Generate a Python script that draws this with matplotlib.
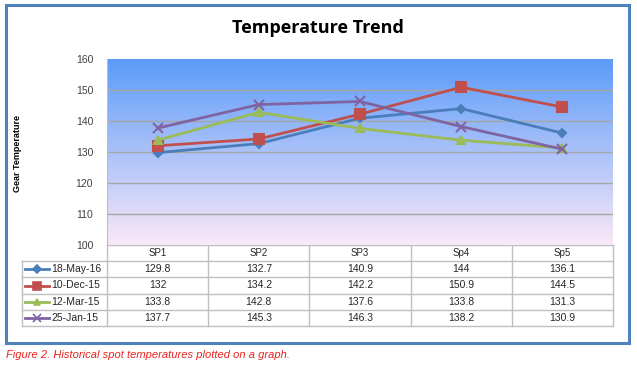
import numpy as np
import matplotlib as mpl
import matplotlib.pyplot as plt
from matplotlib.patches import Rectangle

mpl.rcParams.update({'font.family': ['Liberation Sans', 'DejaVu Sans']})

spots = ['SP1', 'SP2', 'SP3', 'Sp4', 'Sp5']
dates = ['18-May-16', '10-Dec-15', '12-Mar-15', '25-Jan-15']
may16 = [129.8, 132.7, 140.9, 144, 136.1]
dec15 = [132, 134.2, 142.2, 150.9, 144.5]
mar15 = [133.8, 142.8, 137.6, 133.8, 131.3]
jan15 = [137.7, 145.3, 146.3, 138.2, 130.9]
series = [may16, dec15, mar15, jan15]
yticks = [100, 110, 120, 130, 140, 150, 160]

colors = ['#4a7ebb', '#c0504d', '#9bbb59', '#8064a2']
markers = ['D', 's', '^', 'x']
msizes = [4.5, 6.5, 6, 6.5]

W, H = 637, 367
fig = plt.figure(figsize=(W / 100, H / 100), dpi=100)

# full-figure overlay in pixel coordinates for frame / table / captions
bg = fig.add_axes([0, 0, 1, 1])
bg.set_xlim(0, W)
bg.set_ylim(H, 0)
bg.axis('off')
bg.add_patch(Rectangle((6, 5), 623, 338, fill=False, ec='#4f81bd', lw=2.2))

# plot area
px0, px1, py0, py1 = 107, 613, 59, 245
ax = fig.add_axes([px0 / W, 1 - py1 / H, (px1 - px0) / W, (py1 - py0) / H])
grad = np.linspace(0, 1, 256).reshape(-1, 1)
top = np.array([0.36, 0.61, 0.98])
bot = np.array([0.98, 0.91, 0.97])
img = top + (bot - top) * grad[..., None]
ax.imshow(img, extent=[-0.5, 4.5, 100, 160], aspect='auto', zorder=0)
ax.set_xlim(-0.5, 4.5)
ax.set_ylim(100, 160)
for y in yticks[1:-1]:
    ax.axhline(y, color='#a6a6a6', lw=1, zorder=1)
x = np.arange(len(spots))
for vals, c, m, ms in zip(series, colors, markers, msizes):
    ax.plot(x, vals, color=c, lw=2, marker=m, ms=ms, mew=1.5, zorder=3)
ax.set_xticks([])
ax.set_yticks(yticks)
ax.tick_params(axis='y', length=0, labelsize=7.5, labelcolor='#404040', pad=10)
for s in ax.spines.values():
    s.set_visible(False)
ax.spines['left'].set_visible(True)
ax.spines['left'].set_color('#bfbfbf')

# title and y label
fig.text(318 / W, 1 - 28 / H, 'Temperature Trend', ha='center', va='center',
         fontsize=13, fontweight='bold', family=['Open Sans', 'DejaVu Sans'])
fig.text(18 / W, 1 - 153 / H, 'Gear Temperature', rotation=90, ha='center',
         va='center', fontsize=6.5, fontweight='bold')

# data table below the plot
colw = (px1 - px0) / len(spots)
rows_y = [245, 261, 277, 294, 310, 326]
lc = '#bfbfbf'
lx = 22
bg.plot([px0, px1], [rows_y[0], rows_y[0]], color=lc, lw=1)
for yy in rows_y[1:]:
    bg.plot([lx, px1], [yy, yy], color=lc, lw=1)
for i in range(len(spots) + 1):
    xx = px0 + i * colw
    bg.plot([xx, xx], [rows_y[0], rows_y[-1]], color=lc, lw=1)
bg.plot([lx, lx], [rows_y[1], rows_y[-1]], color=lc, lw=1)

for i, s in enumerate(spots):
    bg.text(px0 + (i + 0.5) * colw, (rows_y[0] + rows_y[1]) / 2, s,
            ha='center', va='center', fontsize=7, color='#262626')
for r, (d, vals, c, m, ms) in enumerate(zip(dates, series, colors, markers, msizes)):
    yc = (rows_y[r + 1] + rows_y[r + 2]) / 2
    bg.plot([25, 49], [yc, yc], color=c, lw=2)
    bg.plot([37], [yc], color=c, marker=m, ms=ms * 0.8, mew=1.2)
    bg.text(51, yc, d, ha='left', va='center', fontsize=7.5, color='#262626')
    for i, v in enumerate(vals):
        bg.text(px0 + (i + 0.5) * colw, yc, f'{v:g}', ha='center',
                va='center', fontsize=7.5, color='#262626')

fig.text(6 / W, 1 - 355 / H,
         'Figure 2. Historical spot temperatures plotted on a graph.',
         ha='left', va='center', fontsize=8, style='italic', color='#e8231e')

fig.savefig('out.png', dpi=100)
